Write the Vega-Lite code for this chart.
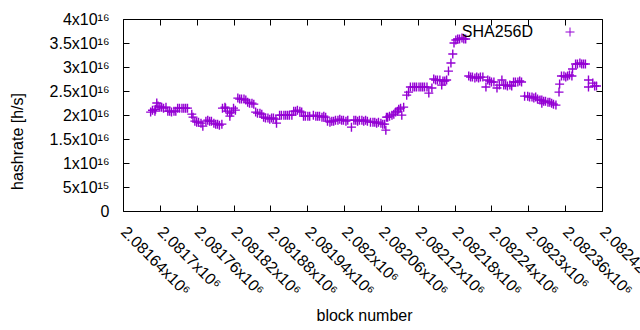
{
  "$schema": "https://vega.github.io/schema/vega-lite/v6.json",
  "autosize": "none",
  "width": 479,
  "height": 192,
  "padding": {"left": 123, "top": 19, "right": 38, "bottom": 119},
  "background": "white",
  "config": {
    "font": "Liberation Sans",
    "view": {"stroke": "black", "strokeWidth": 1},
    "axis": {"grid": false, "domain": false, "tickColor": "black", "tickSize": -6, "labelColor": "black", "labelFontSize": 16, "titleFontSize": 16, "titleFontWeight": "normal", "titleColor": "black", "labelFont": "Liberation Sans", "titleFont": "Liberation Sans"}
  },
  "data": {"values": [
    {"block": 2081685, "hashrate": 2.06e16}, {"block": 2081688, "hashrate": 2.10e16}, {"block": 2081692, "hashrate": 2.08e16}, {"block": 2081693, "hashrate": 2.12e16},
    {"block": 2081695, "hashrate": 2.25e16},
    {"block": 2081697, "hashrate": 2.185e16}, {"block": 2081700, "hashrate": 2.164e16}, {"block": 2081703, "hashrate": 2.164e16}, {"block": 2081706, "hashrate": 2.143e16}, {"block": 2081710, "hashrate": 2.164e16},
    {"block": 2081713, "hashrate": 2.08e16}, {"block": 2081716, "hashrate": 2.08e16}, {"block": 2081719, "hashrate": 2.06e16}, {"block": 2081723, "hashrate": 2.08e16}, {"block": 2081726, "hashrate": 2.08e16},
    {"block": 2081729, "hashrate": 2.143e16}, {"block": 2081732, "hashrate": 2.143e16}, {"block": 2081736, "hashrate": 2.143e16}, {"block": 2081739, "hashrate": 2.143e16}, {"block": 2081742, "hashrate": 2.143e16}, {"block": 2081745, "hashrate": 2.143e16},
    {"block": 2081752, "hashrate": 2.018e16}, {"block": 2081754, "hashrate": 1.955e16},
    {"block": 2081757, "hashrate": 1.872e16}, {"block": 2081760, "hashrate": 1.851e16}, {"block": 2081763, "hashrate": 1.851e16}, {"block": 2081767, "hashrate": 1.83e16}, {"block": 2081770, "hashrate": 1.768e16},
    {"block": 2081775, "hashrate": 1.872e16}, {"block": 2081778, "hashrate": 1.893e16}, {"block": 2081781, "hashrate": 1.872e16}, {"block": 2081784, "hashrate": 1.872e16},
    {"block": 2081788, "hashrate": 1.83e16}, {"block": 2081791, "hashrate": 1.809e16}, {"block": 2081794, "hashrate": 1.809e16}, {"block": 2081797, "hashrate": 1.789e16}, {"block": 2081801, "hashrate": 1.809e16},
    {"block": 2081802, "hashrate": 2.143e16}, {"block": 2081806, "hashrate": 2.164e16}, {"block": 2081807, "hashrate": 2.143e16},
    {"block": 2081810, "hashrate": 2.08e16}, {"block": 2081814, "hashrate": 2.039e16}, {"block": 2081817, "hashrate": 2.06e16}, {"block": 2081814, "hashrate": 1.976e16},
    {"block": 2081820, "hashrate": 2.143e16}, {"block": 2081823, "hashrate": 2.101e16},
    {"block": 2081827, "hashrate": 2.352e16}, {"block": 2081830, "hashrate": 2.331e16}, {"block": 2081833, "hashrate": 2.331e16}, {"block": 2081837, "hashrate": 2.331e16}, {"block": 2081840, "hashrate": 2.31e16},
    {"block": 2081843, "hashrate": 2.268e16}, {"block": 2081846, "hashrate": 2.247e16}, {"block": 2081850, "hashrate": 2.247e16}, {"block": 2081853, "hashrate": 2.226e16},
    {"block": 2081856, "hashrate": 2.06e16}, {"block": 2081859, "hashrate": 2.039e16}, {"block": 2081863, "hashrate": 2.039e16}, {"block": 2081866, "hashrate": 2.018e16},
    {"block": 2081869, "hashrate": 1.955e16}, {"block": 2081872, "hashrate": 1.935e16}, {"block": 2081876, "hashrate": 1.935e16}, {"block": 2081879, "hashrate": 1.914e16}, {"block": 2081882, "hashrate": 1.935e16}, {"block": 2081885, "hashrate": 1.935e16}, {"block": 2081889, "hashrate": 1.914e16}, {"block": 2081890, "hashrate": 1.83e16},
    {"block": 2081895, "hashrate": 1.997e16}, {"block": 2081898, "hashrate": 1.997e16}, {"block": 2081902, "hashrate": 1.997e16}, {"block": 2081905, "hashrate": 1.997e16}, {"block": 2081908, "hashrate": 1.997e16}, {"block": 2081911, "hashrate": 1.997e16}, {"block": 2081915, "hashrate": 1.997e16},
    {"block": 2081918, "hashrate": 2.08e16}, {"block": 2081921, "hashrate": 2.08e16}, {"block": 2081924, "hashrate": 2.101e16}, {"block": 2081928, "hashrate": 2.08e16}, {"block": 2081931, "hashrate": 2.06e16},
    {"block": 2081934, "hashrate": 1.976e16}, {"block": 2081937, "hashrate": 1.976e16}, {"block": 2081941, "hashrate": 1.976e16}, {"block": 2081944, "hashrate": 1.976e16},
    {"block": 2081950, "hashrate": 1.997e16}, {"block": 2081954, "hashrate": 1.976e16}, {"block": 2081957, "hashrate": 1.976e16}, {"block": 2081960, "hashrate": 1.976e16}, {"block": 2081964, "hashrate": 1.955e16}, {"block": 2081967, "hashrate": 1.976e16}, {"block": 2081970, "hashrate": 1.955e16},
    {"block": 2081973, "hashrate": 1.872e16}, {"block": 2081977, "hashrate": 1.851e16}, {"block": 2081980, "hashrate": 1.872e16}, {"block": 2081983, "hashrate": 1.872e16},
    {"block": 2081986, "hashrate": 1.893e16}, {"block": 2081990, "hashrate": 1.893e16}, {"block": 2081993, "hashrate": 1.914e16}, {"block": 2081996, "hashrate": 1.893e16}, {"block": 2081999, "hashrate": 1.893e16}, {"block": 2082003, "hashrate": 1.872e16}, {"block": 2082006, "hashrate": 1.893e16}, {"block": 2082012, "hashrate": 1.747e16},
    {"block": 2082016, "hashrate": 1.893e16}, {"block": 2082019, "hashrate": 1.893e16}, {"block": 2082022, "hashrate": 1.872e16}, {"block": 2082025, "hashrate": 1.893e16}, {"block": 2082029, "hashrate": 1.893e16}, {"block": 2082032, "hashrate": 1.872e16}, {"block": 2082035, "hashrate": 1.893e16}, {"block": 2082038, "hashrate": 1.872e16},
    {"block": 2082043, "hashrate": 1.851e16}, {"block": 2082047, "hashrate": 1.851e16}, {"block": 2082050, "hashrate": 1.851e16}, {"block": 2082053, "hashrate": 1.83e16}, {"block": 2082056, "hashrate": 1.851e16}, {"block": 2082060, "hashrate": 1.83e16}, {"block": 2082063, "hashrate": 1.809e16}, {"block": 2082066, "hashrate": 1.809e16}, {"block": 2082068, "hashrate": 1.684e16},
    {"block": 2082069, "hashrate": 1.955e16}, {"block": 2082071, "hashrate": 1.955e16}, {"block": 2082074, "hashrate": 1.976e16}, {"block": 2082078, "hashrate": 1.997e16}, {"block": 2082081, "hashrate": 2.018e16},
    {"block": 2082084, "hashrate": 2.06e16}, {"block": 2082087, "hashrate": 2.08e16},
    {"block": 2082089, "hashrate": 2.122e16}, {"block": 2082092, "hashrate": 2.143e16}, {"block": 2082094, "hashrate": 1.997e16}, {"block": 2082097, "hashrate": 2.164e16},
    {"block": 2082102, "hashrate": 2.414e16}, {"block": 2082105, "hashrate": 2.477e16},
    {"block": 2082108, "hashrate": 2.582e16}, {"block": 2082112, "hashrate": 2.582e16}, {"block": 2082115, "hashrate": 2.582e16}, {"block": 2082118, "hashrate": 2.582e16}, {"block": 2082122, "hashrate": 2.582e16}, {"block": 2082125, "hashrate": 2.582e16}, {"block": 2082128, "hashrate": 2.582e16}, {"block": 2082131, "hashrate": 2.582e16}, {"block": 2082135, "hashrate": 2.582e16},
    {"block": 2082138, "hashrate": 2.456e16}, {"block": 2082143, "hashrate": 2.561e16},
    {"block": 2082146, "hashrate": 2.749e16}, {"block": 2082149, "hashrate": 2.728e16}, {"block": 2082152, "hashrate": 2.728e16}, {"block": 2082156, "hashrate": 2.728e16},
    {"block": 2082159, "hashrate": 2.623e16}, {"block": 2082161, "hashrate": 2.707e16}, {"block": 2082164, "hashrate": 2.707e16}, {"block": 2082167, "hashrate": 2.728e16},
    {"block": 2082170, "hashrate": 2.915e16}, {"block": 2082174, "hashrate": 3.082e16}, {"block": 2082177, "hashrate": 3.27e16}, {"block": 2082179, "hashrate": 3.499e16},
    {"block": 2082182, "hashrate": 3.562e16}, {"block": 2082185, "hashrate": 3.583e16}, {"block": 2082188, "hashrate": 3.583e16}, {"block": 2082192, "hashrate": 3.604e16}, {"block": 2082195, "hashrate": 3.583e16}, {"block": 2082198, "hashrate": 3.583e16},
    {"block": 2082203, "hashrate": 2.811e16}, {"block": 2082206, "hashrate": 2.79e16}, {"block": 2082209, "hashrate": 2.79e16}, {"block": 2082213, "hashrate": 2.769e16}, {"block": 2082216, "hashrate": 2.79e16}, {"block": 2082219, "hashrate": 2.769e16}, {"block": 2082222, "hashrate": 2.79e16}, {"block": 2082226, "hashrate": 2.79e16},
    {"block": 2082231, "hashrate": 2.582e16},
    {"block": 2082234, "hashrate": 2.728e16}, {"block": 2082237, "hashrate": 2.707e16}, {"block": 2082240, "hashrate": 2.686e16}, {"block": 2082244, "hashrate": 2.686e16},
    {"block": 2082249, "hashrate": 2.561e16}, {"block": 2082253, "hashrate": 2.623e16}, {"block": 2082257, "hashrate": 2.728e16},
    {"block": 2082260, "hashrate": 2.623e16}, {"block": 2082263, "hashrate": 2.623e16}, {"block": 2082266, "hashrate": 2.603e16}, {"block": 2082270, "hashrate": 2.623e16}, {"block": 2082273, "hashrate": 2.603e16},
    {"block": 2082276, "hashrate": 2.686e16}, {"block": 2082279, "hashrate": 2.686e16}, {"block": 2082283, "hashrate": 2.686e16}, {"block": 2082286, "hashrate": 2.707e16}, {"block": 2082289, "hashrate": 2.686e16},
    {"block": 2082294, "hashrate": 2.393e16},
    {"block": 2082299, "hashrate": 2.393e16}, {"block": 2082302, "hashrate": 2.373e16}, {"block": 2082306, "hashrate": 2.373e16}, {"block": 2082309, "hashrate": 2.352e16}, {"block": 2082312, "hashrate": 2.373e16},
    {"block": 2082315, "hashrate": 2.331e16}, {"block": 2082319, "hashrate": 2.31e16}, {"block": 2082322, "hashrate": 2.31e16}, {"block": 2082325, "hashrate": 2.289e16}, {"block": 2082328, "hashrate": 2.289e16}, {"block": 2082322, "hashrate": 2.247e16},
    {"block": 2082332, "hashrate": 2.268e16}, {"block": 2082335, "hashrate": 2.268e16}, {"block": 2082338, "hashrate": 2.247e16}, {"block": 2082341, "hashrate": 2.226e16}, {"block": 2082345, "hashrate": 2.206e16},
    {"block": 2082350, "hashrate": 2.477e16}, {"block": 2082351, "hashrate": 2.644e16},
    {"block": 2082354, "hashrate": 2.811e16}, {"block": 2082358, "hashrate": 2.811e16}, {"block": 2082361, "hashrate": 2.79e16}, {"block": 2082364, "hashrate": 2.811e16}, {"block": 2082367, "hashrate": 2.832e16}, {"block": 2082371, "hashrate": 2.811e16},
    {"block": 2082372, "hashrate": 2.957e16},
    {"block": 2082377, "hashrate": 3.061e16}, {"block": 2082380, "hashrate": 3.061e16}, {"block": 2082384, "hashrate": 3.082e16}, {"block": 2082387, "hashrate": 3.061e16}, {"block": 2082390, "hashrate": 3.061e16}, {"block": 2082393, "hashrate": 3.061e16},
    {"block": 2082398, "hashrate": 2.582e16}, {"block": 2082398, "hashrate": 2.728e16},
    {"block": 2082405, "hashrate": 2.665e16}, {"block": 2082408, "hashrate": 2.603e16}, {"block": 2082411, "hashrate": 2.603e16}
  ]},
  "resolve": {"axis": {"x": "independent", "y": "independent"}},
  "layer": [
    {
      "mark": {"type": "point", "shape": "M-1,0L1,0M0,-1L0,1", "filled": false, "size": 81, "strokeWidth": 1.4, "opacity": 1},
      "encoding": {
        "x": {"field": "block", "type": "quantitative",
          "scale": {"domain": [2081640, 2082420], "nice": false, "zero": false},
          "axis": {"orient": "bottom", "title": "block number", "titleX": 241, "titleY": 104, "titleBaseline": "middle",
            "values": [2081640, 2081700, 2081760, 2081820, 2081880, 2081940, 2082000, 2082060, 2082120, 2082180, 2082240, 2082300, 2082360, 2082420],
            "labelAngle": 45, "labelAlign": "left", "labelBaseline": "middle", "labelPadding": 24, "labelFlush": false, "labelOverlap": false, "labelBound": false,
            "labelExpr": "format(datum.value/1e6, '~g') + 'x10⁶'"}},
        "y": {"field": "hashrate", "type": "quantitative",
          "scale": {"domain": [0, 4e16], "nice": false},
          "axis": {"orient": "left", "title": "hashrate [h/s]", "titleX": -106, "titleY": 122, "titleAngle": -90, "titleAlign": "center", "titleBaseline": "middle",
            "values": [0, 5e15, 1e16, 1.5e16, 2e16, 2.5e16, 3e16, 3.5e16, 4e16],
            "labelPadding": 20, "labelOverlap": false, "labelFlush": false,
            "labelExpr": "datum.value == 0 ? '0' : (datum.value < 1e16 ? format(datum.value/1e15, '~g') + 'x10¹⁵' : format(datum.value/1e16, '~g') + 'x10¹⁶')"}},
        "color": {"datum": "SHA256D", "type": "nominal",
          "scale": {"range": ["#9400d3"]},
          "legend": {"title": null, "orient": "none", "legendX": 439, "legendY": 5, "padding": 0,
            "symbolType": "M-1,0L1,0M0,-1L0,1", "symbolSize": 81, "symbolStrokeWidth": 1, "symbolFillColor": "transparent",
            "labelFontSize": 16, "labelColor": "black", "labelAlign": "right", "labelOffset": -45, "labelLimit": 0}}
      }
    },
    {
      "mark": {"type": "point", "opacity": 0},
      "encoding": {
        "x": {"field": "block", "type": "quantitative",
          "scale": {"domain": [2081640, 2082420], "nice": false, "zero": false},
          "axis": {"orient": "top", "title": null, "labels": false,
            "values": [2081640, 2081700, 2081760, 2081820, 2081880, 2081940, 2082000, 2082060, 2082120, 2082180, 2082240, 2082300, 2082360, 2082420]}},
        "y": {"field": "hashrate", "type": "quantitative",
          "scale": {"domain": [0, 4e16], "nice": false},
          "axis": {"orient": "right", "title": null, "labels": false,
            "values": [0, 5e15, 1e16, 1.5e16, 2e16, 2.5e16, 3e16, 3.5e16, 4e16]}}
      }
    }
  ]
}
